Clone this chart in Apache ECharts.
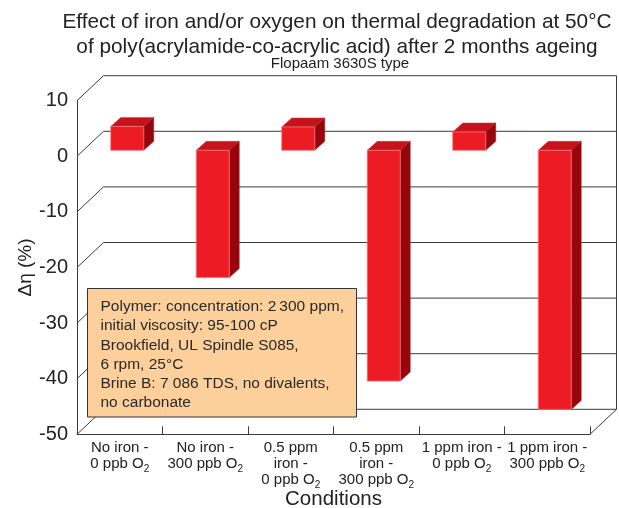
<!DOCTYPE html>
<html>
<head>
<meta charset="utf-8">
<script src="https://cdn.jsdelivr.net/npm/echarts@6/dist/echarts.min.js"></script>
<style>
  html, body { margin: 0; padding: 0; background: #fff; }
  #chart { width: 619px; height: 508px; }
</style>
</head>
<body>
<div id="chart"></div>
<script>
// data
const categories = [
  'No iron -\n0 ppb O{sub|2}',
  'No iron -\n300 ppb O{sub|2}',
  '0.5 ppm\niron -\n0 ppb O{sub|2}',
  '0.5 ppm\niron -\n300 ppb O{sub|2}',
  '1 ppm iron -\n0 ppb O{sub|2}',
  '1 ppm iron -\n300 ppb O{sub|2}'
]
const deltaEta = [4.3, -22.9, 4.2, -41.5, 3.3, -46.6]
const yTicks = [10, 0, -10, -20, -30, -40, -50]

// 3d look (pixels)
const WALL = [26.5, -25]  // back wall offset
const SHIFT = [7.5, -6]   // bar front plane offset
const DEPTH = [10, -9]    // bar depth
const FONT = 'Arial, "Liberation Sans", Helvetica, sans-serif'

const chart = echarts.init(document.getElementById('chart'))

// back wall, side wall diagonals and floor
const renderFrame = (params, api) => {
  const cs = params.coordSys
  const v = api.value(0)
  const y = api.coord([0, v])[1]
  const left = cs.x
  const right = cs.x + cs.width
  const children = [{
    type: 'polyline',
    shape: { points: [[left, y], [left + WALL[0], y + WALL[1]], [right + WALL[0], y + WALL[1]]] },
    style: { stroke: '#3a3a3a', lineWidth: 1, fill: null }
  }]
  if (v === yTicks[0]) {
    children.push({
      type: 'line',
      shape: { x1: right + WALL[0], y1: y + WALL[1], x2: right + WALL[0], y2: cs.y + cs.height + WALL[1] },
      style: { stroke: '#3a3a3a', lineWidth: 1 }
    })
  }
  if (v === yTicks[yTicks.length - 1]) {
    children.push({
      type: 'line',
      shape: { x1: right, y1: y, x2: right + WALL[0], y2: y + WALL[1] },
      style: { stroke: '#3a3a3a', lineWidth: 1 }
    })
  }
  return { type: 'group', children }
}

// 3d bars: front, top and side faces
const renderBar = (params, api) => {
  const i = api.value(0)
  const top = api.coord([i, Math.max(api.value(1), 0)])
  const bot = api.coord([i, Math.min(api.value(1), 0)])
  const w = api.size([1, 0])[0] * 0.386
  const x0 = top[0] - w / 2 + SHIFT[0]
  const x1 = x0 + w
  const y0 = top[1] + SHIFT[1]
  const y1 = bot[1] + SHIFT[1]
  return {
    type: 'group',
    children: [
      {
        type: 'polygon',
        shape: { points: [[x0, y0], [x1, y0], [x1 + DEPTH[0], y0 + DEPTH[1]], [x0 + DEPTH[0], y0 + DEPTH[1]]] },
        style: { fill: '#c5121b', stroke: '#d04048', lineWidth: 0.5 }
      },
      {
        type: 'polygon',
        shape: { points: [[x1, y0], [x1 + DEPTH[0], y0 + DEPTH[1]], [x1 + DEPTH[0], y1 + DEPTH[1]], [x1, y1]] },
        style: { fill: '#96050b', stroke: '#a02028', lineWidth: 0.5 }
      },
      {
        type: 'rect',
        shape: { x: x0, y: y0, width: w, height: y1 - y0 },
        style: { fill: '#ed1c24', stroke: '#f2737a', lineWidth: 0.8 }
      }
    ]
  }
}

const noteLines = [
  'Polymer: concentration: 2\u2009300 ppm,',
  'initial viscosity: 95-100 cP',
  'Brookfield, UL Spindle S085,',
  '6 rpm, 25°C',
  'Brine B: 7 086 TDS, no divalents,',
  'no carbonate'
]

const option = {
  animation: false,
  backgroundColor: '#fff',
  title: [
    {
      text: 'Effect of iron and/or oxygen on thermal degradation at 50°C\nof poly(acrylamide-co-acrylic acid) after 2 months ageing',
      left: 332, top: 5, textAlign: 'center',
      textStyle: { fontFamily: FONT, fontSize: 20.8, fontWeight: 'normal', color: '#222', lineHeight: 25 }
    },
    {
      text: 'Flopaam 3630S type',
      left: 335, top: 51, textAlign: 'center',
      textStyle: { fontFamily: FONT, fontSize: 15, fontWeight: 'normal', color: '#222' }
    }
  ],
  grid: { left: 77, right: 29, top: 100.7, bottom: 73.7, outerBoundsMode: 'none' },
  xAxis: {
    type: 'category',
    data: categories,
    name: 'Conditions',
    nameLocation: 'middle',
    nameGap: 55,
    nameMoveOverlap: false,
    nameTextStyle: { fontFamily: FONT, fontSize: 20.5, color: '#222' },
    axisLine: { onZero: false, lineStyle: { color: '#3a3a3a', width: 1 } },
    axisTick: { show: true, inside: true, length: 8, lineStyle: { color: '#3a3a3a' } },
    axisLabel: {
      interval: 0, margin: 6,
      fontFamily: FONT, fontSize: 15, lineHeight: 16, color: '#222',
      rich: { sub: { fontFamily: FONT, fontSize: 10, color: '#222', padding: [9, 0, 0, 0] } }
    },
    splitLine: { show: false }
  },
  yAxis: {
    type: 'value',
    min: -50, max: 10, interval: 10,
    name: 'Δη (%)',
    nameLocation: 'middle',
    nameRotate: 90,
    nameGap: 42,
    nameMoveOverlap: false,
    nameTextStyle: { fontFamily: FONT, fontSize: 19, color: '#222' },
    axisLine: { show: true, lineStyle: { color: '#3a3a3a', width: 1 } },
    axisTick: { show: false },
    axisLabel: { margin: 9, fontFamily: FONT, fontSize: 20, color: '#222' },
    splitLine: { show: false }
  },
  series: [
    {
      type: 'custom',
      name: 'frame',
      silent: true,
      z: 1,
      renderItem: renderFrame,
      data: yTicks.map((v) => [v])
    },
    {
      type: 'custom',
      name: 'Δη',
      z: 3,
      renderItem: renderBar,
      data: deltaEta.map((v, i) => [i, v])
    }
  ],
  graphic: [
    {
      type: 'rect',
      z: 10,
      shape: { x: 87.5, y: 288.5, width: 269, height: 128.5 },
      style: { fill: '#fdd09b', stroke: '#333', lineWidth: 1 }
    },
    {
      type: 'text',
      z: 11,
      x: 100.5, y: 297,
      style: {
        text: noteLines.join('\n'),
        fontFamily: FONT, fontSize: 15.5, lineHeight: 19.3, fill: '#2a2a2a'
      }
    }
  ]
}

chart.setOption(option)
</script>
</body>
</html>
